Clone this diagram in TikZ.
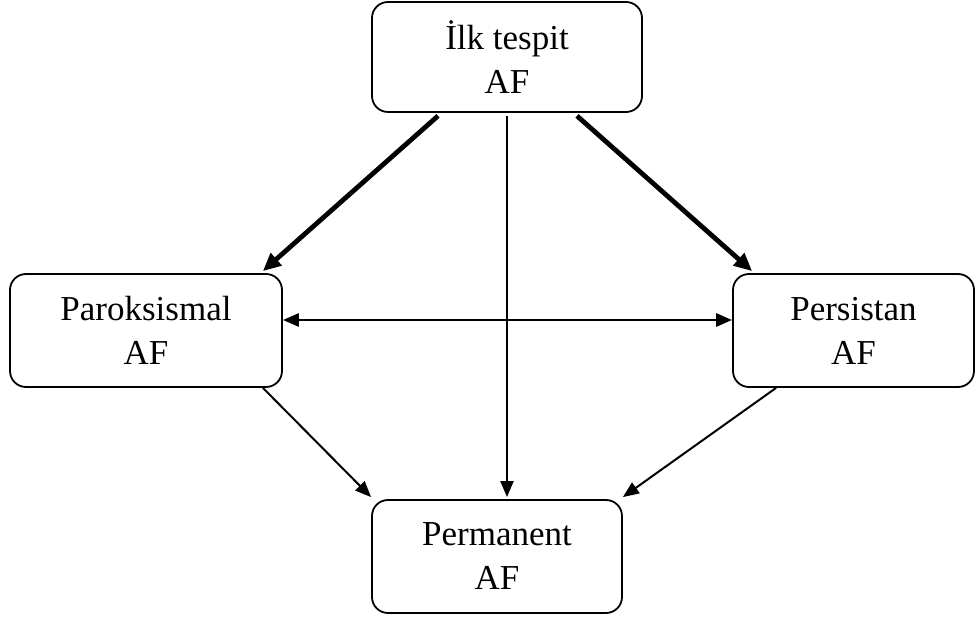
\documentclass[tikz,border=0pt]{standalone}
\usepackage{fontspec}
\setmainfont{Liberation Serif}
\usetikzlibrary{arrows.meta}
\begin{document}
\begin{tikzpicture}[x=0.5pt,y=-0.5pt,
  box/.style={draw, line width=0.9pt, rounded corners=8pt, inner sep=0pt,
    align=center, font=\fontsize{17.5pt}{22pt}\selectfont},
  thick arrow/.style={line width=2.4pt, -{Triangle[length=9pt,width=8pt]}},
  thin arrow/.style={line width=1pt, -{Triangle[length=8pt,width=6.5pt]}},
  mid arrow/.style={line width=1.4pt, {Triangle[length=8pt,width=6.5pt]}-{Triangle[length=8pt,width=6.5pt]}}]
\useasboundingbox (0,0) rectangle (976,620);
\node[box, minimum width=135pt, minimum height=55pt] (top) at (507,57) {İlk tespit\\AF};
\node[box, minimum width=136pt, minimum height=56.5pt] (left) at (146,330.5) {Paroksismal\\AF};
\node[box, minimum width=120.5pt, minimum height=56.5pt] (right) at (853.5,330.5) {Persistan\\AF};
\node[box, minimum width=125pt, minimum height=56.5pt] (bottom) at (497,556.5) {Permanent\\AF};
\draw[thick arrow] ([xshift=-34.5pt,yshift=-1.5pt]top.south) -- ([xshift=-10pt,yshift=1pt]left.north east);
\draw[thick arrow] ([xshift=35pt,yshift=-1.5pt]top.south) -- ([xshift=10pt,yshift=1pt]right.north west);
\draw[thin arrow] ([yshift=-1.5pt]top.south) -- ([yshift=1pt]top.south |- bottom.north);
\draw[mid arrow] ([yshift=5.25pt]left.east) -- ([yshift=5.25pt]right.west);
\draw[thin arrow] ([xshift=-10pt]left.south east) -- ([yshift=1pt]bottom.north west);
\draw[thin arrow] ([xshift=22pt]right.south west) -- ([yshift=1pt]bottom.north east);
\end{tikzpicture}
\end{document}
